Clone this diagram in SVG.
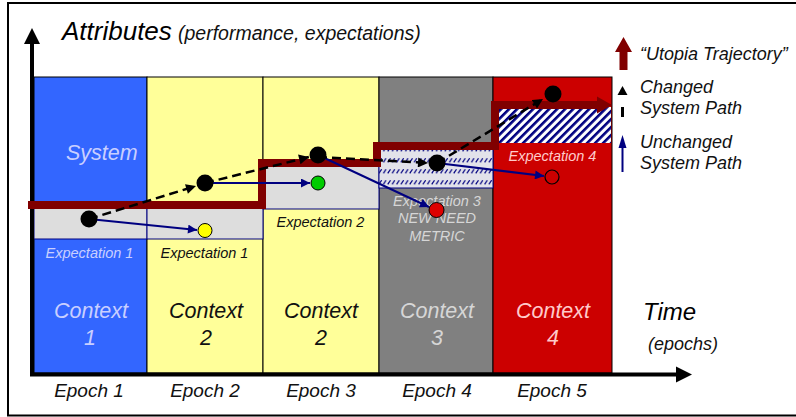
<svg xmlns="http://www.w3.org/2000/svg" width="796" height="417" viewBox="0 0 796 417">
  <defs>
    <style>
      text { font-family: "Liberation Sans", Arial, sans-serif; font-style: italic; }
      .dark { fill: #111111; }
      .lav { fill: #C9CFFF; }
      .lgray { fill: #D6D6D6; }
      .pink { fill: #FFCACA; }
      .ctx { font-size: 21.5px; text-anchor: middle; }
      .exp { font-size: 14.5px; text-anchor: middle; }
      .epoch { font-size: 19px; fill: #111111; text-anchor: middle; }
      .leg { font-size: 18px; fill: #111111; }
      .col { stroke: #000000; stroke-width: 1; }
      .ebox { stroke: #000080; stroke-width: 1; }
      .dash { fill: none; stroke: #000000; stroke-width: 2.5; stroke-dasharray: 9 5; marker-end: url(#ahBlack); }
      .navy { fill: none; stroke: #000080; stroke-width: 2; marker-end: url(#ahNavy); }
      .dot { fill: #000000; }
      .axis { fill: none; stroke: #000000; stroke-width: 4; }
    </style>
    <marker id="ahBlack" viewBox="0 0 10 10" refX="10" refY="5" markerUnits="userSpaceOnUse" markerWidth="11" markerHeight="10" orient="auto">
      <path d="M0,0 L10,5 L0,10 Z" fill="#000000"/>
    </marker>
    <marker id="ahNavy" viewBox="0 0 10 10" refX="10" refY="5" markerUnits="userSpaceOnUse" markerWidth="11" markerHeight="9" orient="auto">
      <path d="M0,0 L10,5 L0,10 Z" fill="#000080"/>
    </marker>
    <!-- rows of short slashes for the epoch 4 expectation band -->
    <pattern id="slashRows" patternUnits="userSpaceOnUse" x="0" y="0" width="4.4" height="11">
      <rect width="4.4" height="11" fill="#E2E2EA"/>
      <path d="M0.6,8.4 L3.2,4.2" stroke="#000080" stroke-width="1.2"/>
    </pattern>
    <!-- wide upward diagonal stripes for the epoch 5 expectation band -->
    <pattern id="diagStripes" patternUnits="userSpaceOnUse" width="5.66" height="10" patternTransform="rotate(45)">
      <rect width="5.66" height="10" fill="#FFFFFF"/>
      <rect width="2.6" height="10" fill="#000080"/>
    </pattern>
  </defs>

  <rect x="0" y="0" width="796" height="417" fill="#FFFFFF"/>
  <!-- outer frame -->
  <rect x="8" y="3" width="800" height="412.5" fill="none" stroke="#000000" stroke-width="2"/>

  <!-- epoch columns (contexts) -->
  <g id="epoch1">
    <rect class="col" x="34" y="77" width="113" height="296" fill="#3366FF"/>
  </g>
  <g id="epoch2">
    <rect class="col" x="147" y="77" width="116" height="296" fill="#FFFF99"/>
  </g>
  <g id="epoch3">
    <rect class="col" x="263" y="77" width="116" height="296" fill="#FFFF99"/>
  </g>
  <g id="epoch4">
    <rect class="col" x="379" y="77" width="114" height="296" fill="#808080"/>
  </g>
  <g id="epoch5">
    <rect class="col" x="493" y="77" width="119" height="296" fill="#CC0000"/>
  </g>

  <!-- expectation bands -->
  <g id="expectation1">
    <rect class="ebox" x="34" y="208" width="113" height="31" fill="#DDDDDD"/>
    <rect class="ebox" x="147" y="208" width="116" height="31" fill="#DDDDDD"/>
  </g>
  <g id="expectation2">
    <rect class="ebox" x="263" y="165" width="116" height="44" fill="#DDDDDD"/>
  </g>
  <g id="expectation3">
    <rect class="ebox" x="379" y="148" width="114" height="40" fill="url(#slashRows)"/>
  </g>
  <g id="expectation4">
    <rect x="497" y="107" width="114" height="36" fill="url(#diagStripes)"/>
  </g>

  <!-- labels inside the columns -->
  <g id="labels">
    <text class="lav" x="66" y="160" style="font-size:21.5px">System</text>
    <text class="exp lav" x="89.5" y="258">Expectation 1</text>
    <text class="exp dark" x="204.5" y="258">Expectation 1</text>
    <text class="exp dark" x="320.5" y="227">Expectation 2</text>
    <text class="exp lgray" x="437" y="206">Expectation 3</text>
    <text class="exp lgray" x="437" y="223">NEW NEED</text>
    <text class="exp lgray" x="437" y="241">METRIC</text>
    <text class="exp pink" x="552.5" y="161">Expectation 4</text>

    <text class="ctx lav" x="91" y="318">Context</text>
    <text class="ctx lav" x="90" y="345">1</text>
    <text class="ctx dark" x="206" y="318">Context</text>
    <text class="ctx dark" x="206" y="345">2</text>
    <text class="ctx dark" x="321" y="318">Context</text>
    <text class="ctx dark" x="321" y="345">2</text>
    <text class="ctx lgray" x="437" y="318">Context</text>
    <text class="ctx lgray" x="437" y="345">3</text>
    <text class="ctx pink" x="553" y="318">Context</text>
    <text class="ctx pink" x="553" y="345">4</text>
  </g>

  <!-- axes -->
  <g id="axes">
    <path class="axis" d="M32,42 V374.5 H678"/>
    <path d="M24,44 L32,28 L40,44 Z" fill="#000000"/>
    <path d="M676,366.5 L692,374.5 L676,382.5 Z" fill="#000000"/>
    <text x="62" y="40" style="font-size:26px" fill="#000000">Attributes</text>
    <text x="178" y="40" style="font-size:19.5px" class="dark">(performance, expectations)</text>
    <text x="643" y="320" style="font-size:24px" fill="#000000">Time</text>
    <text x="648" y="350" style="font-size:18px" class="dark">(epochs)</text>
    <text class="epoch" x="89" y="397">Epoch 1</text>
    <text class="epoch" x="205" y="397">Epoch 2</text>
    <text class="epoch" x="321" y="397">Epoch 3</text>
    <text class="epoch" x="437" y="397">Epoch 4</text>
    <text class="epoch" x="552" y="397">Epoch 5</text>
  </g>

  <!-- utopia trajectory and system paths -->
  <g id="connectors">
    <path d="M28,205 H262 V163 H377 V146 H495 V105 H600" fill="none" stroke="#800000" stroke-width="8" stroke-linejoin="miter"/>
    <path d="M597,96.5 L612,105 L597,113.5 Z" fill="#800000"/>

    <line class="navy" x1="89" y1="219" x2="197" y2="230"/>
    <line class="navy" x1="205" y1="183" x2="310" y2="183"/>
    <line class="navy" x1="318" y1="155" x2="429" y2="207"/>
    <line class="navy" x1="437" y1="163" x2="544" y2="176"/>

    <line class="dash" x1="89" y1="219" x2="196" y2="186"/>
    <line class="dash" x1="205" y1="183" x2="309" y2="157"/>
    <line class="dash" x1="318" y1="157" x2="428" y2="163"/>
    <line class="dash" x1="437" y1="163" x2="543" y2="99"/>
  </g>

  <!-- system states -->
  <g id="state1"><circle class="dot" cx="89" cy="219" r="8.5"/></g>
  <g id="state2"><circle class="dot" cx="205" cy="183" r="8.5"/></g>
  <g id="state2u"><circle cx="205" cy="230.5" r="7" fill="#FFFF00" stroke="#000000" stroke-width="1"/></g>
  <g id="state3"><circle class="dot" cx="318" cy="155" r="8.5"/></g>
  <g id="state3u"><circle cx="318" cy="183" r="7" fill="#00CC00" stroke="#000000" stroke-width="1"/></g>
  <g id="state4"><circle class="dot" cx="437" cy="163" r="8.5"/></g>
  <g id="state4u"><circle cx="436.5" cy="210" r="7.5" fill="#DD0000" stroke="#000000" stroke-width="1"/></g>
  <g id="state5"><circle class="dot" cx="553" cy="94" r="8.5"/></g>
  <g id="state5u"><circle cx="552" cy="177" r="7" fill="#CC0000" stroke="#000000" stroke-width="1.2"/></g>

  <!-- legend -->
  <g id="legend">
    <path d="M619.5,70 V52 H615 L623.5,37 L632,52 H627.5 V70 Z" fill="#800000"/>
    <text class="leg" x="640" y="60">“Utopia Trajectory”</text>
    <path d="M617.5,95 L622.5,86 L627.5,95 Z" fill="#000000"/>
    <rect x="621" y="107" width="3" height="10" fill="#000000"/>
    <text class="leg" x="640" y="93">Changed</text>
    <text class="leg" x="640" y="114">System Path</text>
    <line x1="622.5" y1="172" x2="622.5" y2="146" stroke="#000080" stroke-width="2"/>
    <path d="M618.5,148 L622.5,135 L626.5,148 Z" fill="#000080"/>
    <text class="leg" x="640" y="148">Unchanged</text>
    <text class="leg" x="640" y="169">System Path</text>
  </g>
</svg>
